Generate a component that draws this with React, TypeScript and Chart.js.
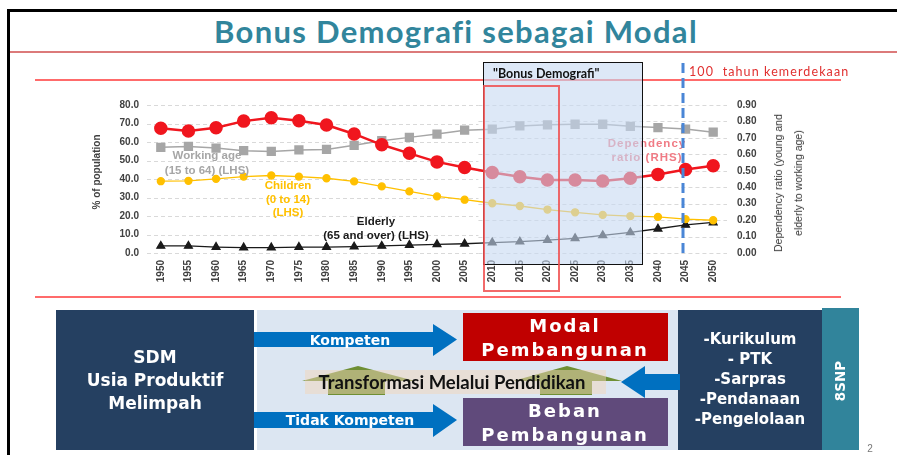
import React, { useEffect, useRef } from "react";
import { Chart, registerables } from "chart.js";
Chart.register(...registerables);

const years = ["1950","1955","1960","1965","1970","1975","1980","1985","1990","1995","2000","2005","2010","2015","2020","2025","2030","2035","2040","2045","2050"];
const workingAge = [57.1,57.6,56.7,55.3,54.9,55.7,56.0,58.2,60.7,62.5,64.3,66.4,66.9,68.7,69.3,69.6,69.6,68.5,67.8,67.0,65.3];
const dependencyRatio = [0.758,0.742,0.762,0.802,0.822,0.804,0.778,0.724,0.658,0.606,0.554,0.520,0.490,0.464,0.444,0.444,0.438,0.454,0.478,0.508,0.530];
const children = [38.8,39.0,40.1,41.3,41.9,41.3,40.4,38.7,36.0,33.3,30.6,28.8,26.9,25.4,23.5,22.0,20.6,19.9,19.5,18.3,17.7];
const elderly = [3.8,3.8,3.2,2.9,2.9,3.2,3.2,3.4,3.8,4.3,4.7,5.0,5.6,6.1,7.0,7.9,9.5,11.1,13.1,15.2,16.5];
const leftAxisMax = 80;
const rightAxisMax = 0.9;
const splitIndex = 12;

const CW = 730;
const CH = 211;
const PLOT_BOTTOM = 164;

const gridPlugin = {
  id: "splitGrid",
  beforeDatasetsDraw(chart: any) {
    const { ctx, chartArea, scales } = chart;
    const xs = scales.x;
    const split = xs.getPixelForValue(splitIndex) - (xs.getPixelForValue(1) - xs.getPixelForValue(0)) / 2;
    ctx.save();
    ctx.strokeStyle = "#d9d9d9";
    ctx.lineWidth = 1;
    ctx.setLineDash([4, 3]);
    scales.yL.ticks.forEach((t: any) => {
      const y = Math.round(scales.yL.getPixelForValue(t.value)) + 0.5;
      ctx.beginPath();
      ctx.moveTo(chartArea.left, y);
      ctx.lineTo(split, y);
      ctx.stroke();
    });
    scales.yR.ticks.forEach((t: any) => {
      const y = Math.round(scales.yR.getPixelForValue(t.value)) + 0.5;
      ctx.beginPath();
      ctx.moveTo(split, y);
      ctx.lineTo(chartArea.right, y);
      ctx.stroke();
    });
    ctx.restore();
  },
};

function Txt(props: any) {
  const { x, y, children: c, style } = props;
  return (
    <div
      style={{
        position: "absolute",
        left: x,
        top: y,
        transform: "translate(-50%,-50%)",
        whiteSpace: "pre",
        textAlign: "center",
        ...style,
      }}
    >
      {c}
    </div>
  );
}

function DemoChart() {
  const ref = useRef<HTMLCanvasElement>(null);
  useEffect(() => {
    const tickFont = { family: '"Liberation Sans Narrow", "Liberation Sans", Arial, sans-serif', size: 10, weight: "bold" as const };
    const chart = new Chart(ref.current as HTMLCanvasElement, {
      type: "line",
      data: {
        labels: years,
        datasets: [
          {
            label: "Dependency ratio (RHS)",
            data: dependencyRatio,
            yAxisID: "yR",
            borderColor: "#f0161e",
            backgroundColor: "#f0161e",
            borderWidth: 2.5,
            pointStyle: "circle",
            pointRadius: 5.5,
            order: 0,
          },
          {
            label: "Working age (15 to 64) (LHS)",
            data: workingAge,
            yAxisID: "yL",
            borderColor: "#a6a6a6",
            backgroundColor: "#a6a6a6",
            borderWidth: 1.5,
            pointStyle: "rect",
            pointRadius: 5.5,
            order: 1,
          },
          {
            label: "Children (0 to 14) (LHS)",
            data: children,
            yAxisID: "yL",
            borderColor: "#ffc000",
            backgroundColor: "#ffc000",
            borderWidth: 1.3,
            pointStyle: "circle",
            pointRadius: 3.5,
            order: 2,
          },
          {
            label: "Elderly (65 and over) (LHS)",
            data: elderly,
            yAxisID: "yL",
            borderColor: "#1a1a1a",
            backgroundColor: "#1a1a1a",
            borderWidth: 1.3,
            pointStyle: "triangle",
            pointRadius: 4.5,
            order: 3,
          },
        ],
      },
      options: {
        responsive: false,
        animation: false,
        devicePixelRatio: 1,
        layout: { padding: { top: 3, left: 0, right: 0, bottom: 0 } },
        plugins: { legend: { display: false }, tooltip: { enabled: false } },
        scales: {
          x: {
            offset: true,
            grid: { display: false, drawTicks: false },
            border: { display: false },
            ticks: { minRotation: 90, maxRotation: 90, padding: 7, color: "#404040", font: tickFont, autoSkip: false },
            afterFit: (s: any) => { s.height = CH - PLOT_BOTTOM; },
          },
          yL: {
            position: "left",
            min: 0,
            max: leftAxisMax,
            grid: { display: false, drawTicks: false },
            border: { display: false },
            ticks: { stepSize: 10, padding: 8, color: "#404040", font: tickFont, callback: (v: any) => Number(v).toFixed(1) },
            afterFit: (s: any) => { s.width = 57; },
          },
          yR: {
            position: "right",
            min: 0,
            max: rightAxisMax,
            grid: { display: false, drawTicks: false },
            border: { display: false },
            ticks: { stepSize: 0.1, padding: 10, color: "#404040", font: tickFont, callback: (v: any) => Number(v).toFixed(2) },
            afterFit: (s: any) => { s.width = CW - 637; },
          },
        },
      },
      plugins: [gridPlugin],
    });
    return () => chart.destroy();
  }, []);
  return (
    <canvas
      ref={ref}
      width={CW}
      height={CH}
      style={{ position: "absolute", left: 90, top: 89, width: CW, height: CH }}
    />
  );
}

const dv = '"DejaVu Sans", Verdana, sans-serif';
const lato = 'Lato, "Open Sans", sans-serif';
const arial = '"Liberation Sans", Arial, sans-serif';

export default function App() {
  useEffect(() => {
    document.body.style.margin = "0";
  }, []);
  return (
    <div style={{ position: "fixed", left: 0, top: 0, width: 897, height: 455, overflow: "hidden", background: "#fff" }}>
      {/* frame */}
      <div style={{ position: "absolute", left: 7, top: 9, width: 900, height: 460, borderTop: "3px solid #000", borderLeft: "3px solid #000" }} />
      {/* title */}
      <Txt x={456} y={31} style={{ fontFamily: lato, fontWeight: 700, fontSize: 31, color: "#31859c", letterSpacing: 1.3 }}>Bonus Demografi sebagai Modal</Txt>
      <div style={{ position: "absolute", left: 10, top: 51, width: 900, height: 2, background: "#dc7a7a" }} />
      {/* red frame lines around chart */}
      <div style={{ position: "absolute", left: 35, top: 79, width: 806, height: 2, background: "#ff6b6b" }} />
      <div style={{ position: "absolute", left: 35, top: 296, width: 806, height: 2, background: "#ff6b6b" }} />

      <DemoChart />

      {/* left axis title */}
      <Txt x={96} y={172} style={{ transform: "translate(-50%,-50%) rotate(-90deg)", fontFamily: arial, fontWeight: 700, fontSize: 10, color: "#404040" }}>% of population</Txt>
      {/* right axis title */}
      <Txt x={788} y={183} style={{ transform: "translate(-50%,-50%) rotate(-90deg)", fontFamily: arial, fontSize: 10.5, lineHeight: "20px", color: "#333" }}>{"Dependency ratio (young and\nelderly to working age)"}</Txt>

      {/* annotations */}
      <Txt x={207} y={163} style={{ fontFamily: arial, fontWeight: 700, fontSize: 11.5, lineHeight: "15px", color: "#a6a6a6" }}>{"Working age\n(15 to 64) (LHS)"}</Txt>
      <Txt x={288} y={199} style={{ fontFamily: arial, fontWeight: 700, fontSize: 11.5, lineHeight: "13.5px", color: "#ffc000" }}>{"Children\n(0 to 14)\n(LHS)"}</Txt>
      <Txt x={376} y={228} style={{ fontFamily: arial, fontWeight: 700, fontSize: 11.5, lineHeight: "13.5px", color: "#1a1a1a" }}>{"Elderly\n(65 and over) (LHS)"}</Txt>
      <Txt x={647} y={150} style={{ fontFamily: arial, fontWeight: 700, fontSize: 11.5, lineHeight: "14px", color: "#f07a84", letterSpacing: 1 }}>{"Dependency\nratio (RHS)"}</Txt>

      {/* bonus demografi overlay box */}
      <div style={{ position: "absolute", left: 483, top: 62, width: 160, height: 203, boxSizing: "border-box", border: "1.5px solid #111", background: "rgba(198,217,241,0.6)" }} />
      <div style={{ position: "absolute", left: 493, top: 66, fontFamily: lato, fontWeight: 700, fontSize: 12.5, color: "#111", whiteSpace: "pre" }}>"Bonus Demografi"</div>
      {/* red highlight rectangle */}
      <div style={{ position: "absolute", left: 483, top: 85, width: 77, height: 207, boxSizing: "border-box", border: "2px solid rgba(240,80,80,0.85)" }} />
      {/* 100 years dashed line */}
      <svg style={{ position: "absolute", left: 0, top: 0 }} width={897} height={455}>
        <line x1={683} y1={63} x2={683} y2={257} stroke="#4a86d6" strokeWidth={3} strokeDasharray="10 5" />
      </svg>
      <div style={{ position: "absolute", left: 689, top: 64, fontFamily: lato, fontSize: 12.5, color: "#e03030", letterSpacing: 1.1, whiteSpace: "pre" }}>100  tahun kemerdekaan</div>

      {/* lower diagram */}
      <div style={{ position: "absolute", left: 257, top: 310, width: 421, height: 140, background: "#dce6f2" }} />
      <div style={{ position: "absolute", left: 56, top: 310, width: 198, height: 140, background: "#254061" }} />
      <div style={{ position: "absolute", left: 463, top: 313, width: 205, height: 48, background: "#c00000" }} />
      <div style={{ position: "absolute", left: 463, top: 398, width: 205, height: 48, background: "#604a7b" }} />
      <div style={{ position: "absolute", left: 678, top: 310, width: 144, height: 140, background: "#254061" }} />
      <div style={{ position: "absolute", left: 822, top: 308, width: 37, height: 142, background: "#31849b" }} />
      <svg style={{ position: "absolute", left: 0, top: 0 }} width={897} height={455}>
        <polygon points="254,332 433,332 433,324 457,339.5 433,356 433,347 254,347" fill="#0070c0" />
        <polygon points="254,412 433,412 433,404 457,420 433,437 433,428 254,428" fill="#0070c0" />
        <polygon points="358,366 415,381 385,381 385,395 328,395 328,381 302,381" fill="#6f8f34" />
        <polygon points="567,366 622,381 592,381 592,395 540,395 540,381 513,381" fill="#6f8f34" />
        <rect x={305} y={370} width={301} height={24} fill="rgba(242,214,186,0.5)" />
        <polygon points="621,382 645,366 645,374 680,374 680,390 645,390 645,398" fill="#0070c0" />
      </svg>
      <Txt x={452} y={382} style={{ fontFamily: lato, fontWeight: 700, fontSize: 18.5, color: "#111" }}>Transformasi Melalui Pendidikan</Txt>
      <Txt x={350} y={340} style={{ fontFamily: dv, fontWeight: 700, fontSize: 14, color: "#fff" }}>Kompeten</Txt>
      <Txt x={350} y={420} style={{ fontFamily: dv, fontWeight: 700, fontSize: 14, color: "#fff" }}>Tidak Kompeten</Txt>
      <Txt x={155} y={380} style={{ fontFamily: dv, fontWeight: 700, fontSize: 17, lineHeight: "23px", color: "#fff" }}>{"SDM\nUsia Produktif\nMelimpah"}</Txt>
      <Txt x={565} y={338} style={{ fontFamily: dv, fontWeight: 700, fontSize: 18, lineHeight: "24px", letterSpacing: 2, color: "#fff" }}>{"Modal\nPembangunan"}</Txt>
      <Txt x={565} y={423} style={{ fontFamily: dv, fontWeight: 700, fontSize: 18, lineHeight: "24px", letterSpacing: 2, color: "#fff" }}>{"Beban\nPembangunan"}</Txt>
      <Txt x={750} y={379} style={{ fontFamily: dv, fontWeight: 700, fontSize: 15, lineHeight: "20px", color: "#fff" }}>{"-Kurikulum\n- PTK\n-Sarpras\n-Pendanaan\n-Pengelolaan"}</Txt>
      <Txt x={840} y={381} style={{ transform: "translate(-50%,-50%) rotate(-90deg)", fontFamily: dv, fontWeight: 700, fontSize: 13.5, color: "#fff" }}>8SNP</Txt>
      <Txt x={870} y={448} style={{ fontFamily: arial, fontSize: 10, color: "#777" }}>2</Txt>
    </div>
  );
}
